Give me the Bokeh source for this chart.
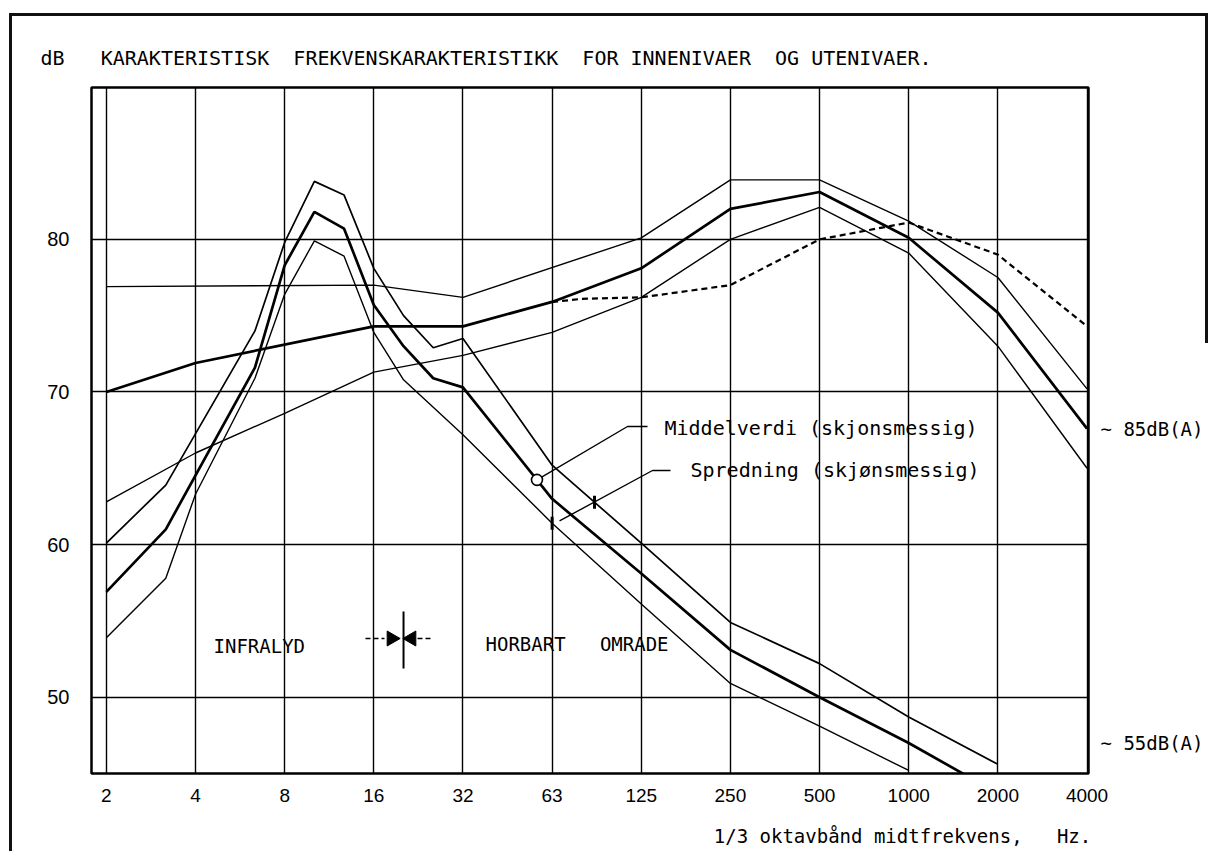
import numpy as np
from bokeh.plotting import figure
from bokeh.models import FixedTicker, LinearAxis, Label, Range1d, InlineStyleSheet
from bokeh.embed import file_html
from bokeh.resources import INLINE

# ---------------- data ----------------
BANDS = [2, 2.5, 3.15, 4, 5, 6.3, 8, 10, 12.5, 16, 20, 25, 31.5, 40, 50, 63, 80,
         100, 125, 160, 200, 250, 315, 400, 500, 630, 800, 1000, 1250, 1600,
         2000, 2500, 3150, 4000]
TICK_FREQS = [2, 4, 8, 16, 31.5, 63, 125, 250, 500, 1000, 2000, 4000]
TICK_LABELS = ["2", "4", "8", "16", "32", "63", "125", "250", "500", "1000", "2000", "4000"]
DB_TICKS = [50, 60, 70, 80]

# Utenivaa (hoerbart omraade) - middelverdi og spredning
ute_mean_f = [2, 4, 16, 31.5, 63, 125, 250, 500, 1000, 2000, 4000]
ute_mean_db = [70.0, 71.9, 74.3, 74.3, 75.9, 78.1, 82.0, 83.1, 80.1, 75.2, 67.6]
ute_upper_f = [2, 16, 31.5, 125, 250, 500, 1000, 2000, 4000]
ute_upper_db = [76.9, 77.0, 76.2, 80.1, 83.9, 83.9, 81.2, 77.5, 70.2]
ute_lower_f = [2, 4, 8, 16, 31.5, 63, 125, 250, 500, 1000, 2000, 4000]
ute_lower_db = [62.8, 66.0, 68.6, 71.3, 72.4, 73.9, 76.2, 80.0, 82.1, 79.1, 73.0, 65.0]
ute_dash_f = [63, 80, 125, 250, 500, 1000, 2000, 4000]
ute_dash_db = [75.9, 76.1, 76.2, 77.0, 80.0, 81.1, 79.0, 74.3]

# Innenivaa (infralyd-topp) - middelverdi og spredning
inne_mean_f = [2, 3.15, 6.3, 8, 10, 12.5, 16, 20, 25, 31.5, 63, 125, 250, 500, 1000, 1600]
inne_mean_db = [56.9, 61.0, 71.6, 78.3, 81.8, 80.7, 75.7, 73.0, 70.9, 70.3, 63.0, 58.1, 53.1, 50.0, 47.0, 44.8]
inne_upper_f = [2, 3.15, 6.3, 8, 10, 12.5, 16, 20, 25, 31.5, 63, 125, 250, 500, 1000, 2000]
inne_upper_db = [60.1, 63.9, 74.0, 79.8, 83.8, 82.9, 78.1, 75.0, 72.9, 73.5, 65.2, 60.1, 54.9, 52.2, 48.7, 45.6]
inne_lower_f = [2, 3.15, 4, 6.3, 8, 10, 12.5, 16, 20, 31.5, 63, 125, 250, 500, 1000]
inne_lower_db = [53.9, 57.8, 63.3, 70.9, 76.4, 79.9, 78.9, 73.9, 70.8, 67.2, 61.4, 56.1, 50.9, 48.1, 45.2]

MEAN_MARK_F = 56        # "o" on middelverdi curve
SPREAD_MARK_LO_F = 63   # spredning marks
SPREAD_MARK_HI_F = 88
BOUNDARY_F = 20         # infralyd / hoerbart grense
DBA_LEVELS = [ute_mean_db[-1], inne_mean_db[-2]]
DBA_LABELS = ["~ 85dB(A)", "~ 55dB(A)"]

NB = "\u00a0"
TITLE = "dB" + NB * 3 + "KARAKTERISTISK" + NB * 2 + "FREKVENSKARAKTERISTIKK" + NB * 2 + \
        "FOR INNENIVAER" + NB * 2 + "OG UTENIVAER."
X_TITLE = "1/3 oktavbånd midtfrekvens," + NB * 2 + " Hz."

# ---------------- layout ----------------
W, H = 1209, 851
FL, FR, FT, FB = 91, 1088, 87, 773
X0, X1 = -0.5, 33.05
Y0, Y1 = 45.0, 89.95

def bx(px):
    return X0 + (px - FL) * (X1 - X0) / (FR - FL)

def dy(py):
    return Y1 - (py - FT) * (Y1 - Y0) / (FB - FT)

LOGB = np.log(BANDS)
IDX = np.arange(len(BANDS))

def bpos(f):
    return np.interp(np.log(f), LOGB, IDX)

def xs_of(fs):
    return [float(bpos(f)) for f in fs]

def on_curve(f, fs, dbs):
    return float(np.interp(bpos(f), xs_of(fs), dbs))

MONO = "DejaVu Sans Mono"
TICK_FONT = "Liberation Sans"

sheet = InlineStyleSheet(css="""
:host { position: relative; overflow: hidden; }
:host::before { content: ""; position: absolute; left: 9px; top: 13px;
  width: 1199px; height: 900px; border-top: 3px solid #111; border-left: 3px solid #111;
  box-sizing: border-box; pointer-events: none; z-index: 10; }
:host::after { content: ""; position: absolute; left: 1205px; top: 13px;
  width: 3px; height: 330px; background: #111; pointer-events: none; z-index: 10; }
""")

p = figure(width=W, height=H, x_range=Range1d(X0, X1), y_range=Range1d(Y0, Y1),
           min_border_left=FL, min_border_right=W - FR, min_border_top=FT,
           min_border_bottom=H - FB, output_backend="svg", toolbar_location=None,
           stylesheets=[sheet])
p.background_fill_color = "white"
p.border_fill_color = "white"
p.outline_line_color = "black"
p.outline_line_width = 2.5

p.title.text = TITLE
p.title.text_font = MONO
p.title.text_font_size = "20px"
p.title.text_font_style = "normal"
p.title.text_color = "black"
p.title.align = "left"
p.title.offset = 40 - FL
p.title.standoff = 36

tick_pos = xs_of(TICK_FREQS)
p.xgrid.ticker = FixedTicker(ticks=tick_pos)
p.ygrid.ticker = FixedTicker(ticks=DB_TICKS)
for g in (p.xgrid, p.ygrid):
    g.grid_line_color = "black"
    g.grid_line_width = 1.4

xa = p.xaxis[0]
xa.ticker = FixedTicker(ticks=tick_pos)
xa.major_label_overrides = {float(t): l for t, l in zip(tick_pos, TICK_LABELS)}
ya = p.yaxis[0]
ya.ticker = FixedTicker(ticks=DB_TICKS)
for ax in (xa, ya):
    ax.axis_line_color = None
    ax.major_tick_line_color = None
    ax.minor_tick_line_color = None
    ax.major_label_text_font = TICK_FONT
    ax.major_label_text_color = "black"
xa.major_label_text_font_size = "19px"
ya.major_label_text_font_size = "20px"
xa.major_label_standoff = 9
ya.major_label_standoff = 16

# second bottom axis carries the x title, centred where the reference has it
x_title_pos = bx(902)
xb = LinearAxis(ticker=FixedTicker(ticks=[x_title_pos]),
                major_label_overrides={x_title_pos: X_TITLE})
xb.axis_line_color = None
xb.major_tick_line_color = None
xb.minor_tick_line_color = None
xb.major_label_text_font = MONO
xb.major_label_text_font_size = "19px"
xb.major_label_text_color = "black"
xb.major_label_standoff = 14
p.add_layout(xb, "below")

ra = LinearAxis(ticker=FixedTicker(ticks=DBA_LEVELS),
                major_label_overrides={float(v): l for v, l in zip(DBA_LEVELS, DBA_LABELS)})
ra.axis_line_color = None
ra.major_tick_line_color = None
ra.minor_tick_line_color = None
ra.major_label_text_font = MONO
ra.major_label_text_font_size = "19px"
ra.major_label_text_color = "black"
ra.major_label_standoff = 6
p.add_layout(ra, "right")

# ---------------- curves ----------------
THICK, THIN = 2.7, 1.4
p.line(xs_of(ute_upper_f), ute_upper_db, line_color="black", line_width=THIN)
p.line(xs_of(ute_lower_f), ute_lower_db, line_color="black", line_width=THIN)
p.line(xs_of(ute_mean_f), ute_mean_db, line_color="black", line_width=THICK)
p.line(xs_of(ute_dash_f), ute_dash_db, line_color="black", line_width=2.2, line_dash="6 4")
p.line(xs_of(inne_upper_f), inne_upper_db, line_color="black", line_width=THIN + 0.3)
p.line(xs_of(inne_lower_f), inne_lower_db, line_color="black", line_width=THIN)
p.line(xs_of(inne_mean_f), inne_mean_db, line_color="black", line_width=THICK)

# ---------------- leaders and markers ----------------
mx = float(bpos(MEAN_MARK_F))
my = on_curve(MEAN_MARK_F, inne_mean_f, inne_mean_db)
p.line([mx, bx(627), bx(647)], [my, dy(426), dy(426)], line_color="black", line_width=1.4)
p.scatter([mx], [my], marker="circle", size=11, fill_color="white",
          line_color="black", line_width=1.6)

lx = float(bpos(SPREAD_MARK_LO_F))
ly = on_curve(SPREAD_MARK_LO_F, inne_lower_f, inne_lower_db)
hx = float(bpos(SPREAD_MARK_HI_F))
hy = on_curve(SPREAD_MARK_HI_F, inne_upper_f, inne_upper_db)
p.line([lx + 0.25, bx(652), bx(670)], [ly + 0.15, dy(470), dy(470)], line_color="black", line_width=1.4)
p.scatter([lx, hx], [ly, hy], marker="dash", angle=np.pi / 2, size=13,
          line_color="black", line_width=3)

# boundary symbol at 20 Hz
bxp = float(bpos(BOUNDARY_F))
p.segment([bxp], [dy(611)], [bxp], [dy(668)], line_color="black", line_width=2)
p.segment([bx(365), bx(417)], [dy(638)] * 2, [bx(384), bx(432)], [dy(638)] * 2,
          line_color="black", line_width=1.4, line_dash="5 3")
p.scatter([bx(391)], [dy(638)], marker="triangle", angle=-np.pi / 2, size=15,
          fill_color="black", line_color="black")
p.scatter([bx(411)], [dy(638)], marker="triangle", angle=np.pi / 2, size=15,
          fill_color="black", line_color="black")

# ---------------- texts inside the frame ----------------
def lab(text, px, py, size="20px"):
    p.add_layout(Label(x=bx(px), y=dy(py), text=text, text_font=MONO,
                       text_font_size=size, text_color="black",
                       text_baseline="middle", text_align="left"))

lab("Middelverdi (skjonsmessig)", 664, 427)
lab("Spredning (skjønsmessig)", 690, 469)
lab("INFRALYD", 213, 645, "19px")
lab("HORBART" + NB * 3 + "OMRADE", 485, 643, "19px")

open("out.html", "w").write(file_html(p, INLINE))
